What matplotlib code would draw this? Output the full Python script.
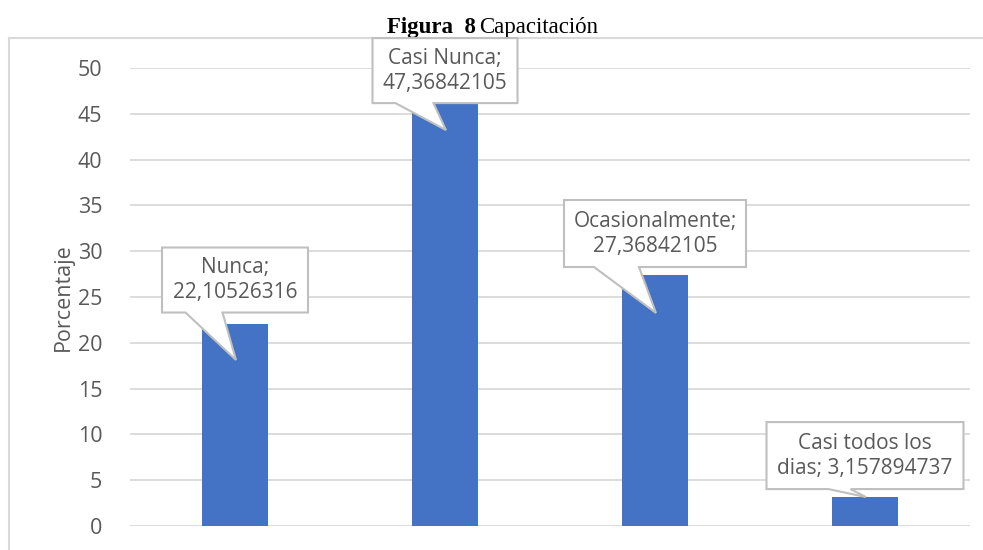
import matplotlib
matplotlib.use("Agg")
import matplotlib.pyplot as plt
from matplotlib.patches import Polygon
from matplotlib.lines import Line2D
from matplotlib.transforms import IdentityTransform

categories = ["Nunca", "Casi Nunca", "Ocasionalmente", "Casi todos los dias"]
values = [22.10526316, 47.36842105, 27.36842105, 3.157894737]
label_texts = ["Nunca;\n22,10526316", "Casi Nunca;\n47,36842105",
               "Ocasionalmente;\n27,36842105", "Casi todos los\ndias; 3,157894737"]
yticks = [0, 5, 10, 15, 20, 25, 30, 35, 40, 45, 50]

# callout geometry in pixels: box centre rise above bar top, box size,
# pointer tip drop below bar top, pointer base offsets from box centre
callout_rise = [43.5, 21.5, 41.8, 41.5]
callout_size = [(146, 65), (145, 65), (182, 67), (197, 67)]
callout_tip = [36.5, 38.0, 37.7, 0.0]
callout_base = [(-49.5, -12.5), (-49.5, -11.5), (-61, -16), (-36.5, -14.5)]

BLUE = "#4472C4"
GRID = "#d9d9d9"
TEXT = "#595959"
W, H = 983, 550

fig = plt.figure(figsize=(W / 100, H / 100), dpi=100)
ax = fig.add_axes([130 / W, 1 - 526 / H, 840 / W, (526 - 68) / H])

x = list(range(len(categories)))
ax.bar(x, values, width=0.314, color=BLUE, zorder=3)
ax.set_xlim(-0.5, len(categories) - 0.5)
ax.set_ylim(0, 50)
ax.set_yticks(yticks)
ax.set_yticklabels([str(t) for t in yticks], fontfamily="Open Sans", fontsize=15.5, color=TEXT)
ax.set_xticks([])
ax.tick_params(axis="y", length=0, pad=20)
ax.grid(axis="y", color=GRID, linewidth=1.3, zorder=0)
for s in ax.spines.values():
    s.set_visible(False)
ax.set_ylabel("Porcentaje", fontfamily="Open Sans", fontsize=15.5, color=TEXT, labelpad=3)

# chart border
fig.add_artist(Line2D([8.5, 8.5], [0, H - 38], transform=IdentityTransform(), color=GRID, lw=1.5))
fig.add_artist(Line2D([8.5, W], [H - 38, H - 38], transform=IdentityTransform(), color=GRID, lw=1.5))

# title
fig.text(476 / W, 1 - 33 / H, "Figura  8", fontfamily="Liberation Serif", fontweight="bold",
         fontsize=16.5, ha="right", va="baseline", color="black")
fig.text(479 / W, 1 - 33 / H, "Capacitación", fontfamily="Liberation Serif",
         fontsize=16.5, ha="left", va="baseline", color="black")

# callout data labels
for i, v in enumerate(values):
    ax_px, ay_px = ax.transData.transform((x[i], v))
    w, h = callout_size[i]
    cx, cy = ax_px, ay_px + callout_rise[i]
    l, r = cx - w / 2, cx + w / 2
    b, t = cy - h / 2, cy + h / 2
    bl, br = cx + callout_base[i][0], cx + callout_base[i][1]
    tip = (ax_px + 1, ay_px - callout_tip[i])
    pts = [(l, t), (r, t), (r, b), (br, b), tip, (bl, b), (l, b)]
    fig.add_artist(Polygon(pts, closed=True, transform=IdentityTransform(),
                           facecolor="white", edgecolor="#bfbfbf", lw=1.5, zorder=5))
    fig.text(cx / W, cy / H, label_texts[i], fontfamily="Open Sans", fontsize=15,
             color=TEXT, ha="center", va="center", linespacing=1.25, zorder=6)

fig.savefig("out.png", dpi=100)
